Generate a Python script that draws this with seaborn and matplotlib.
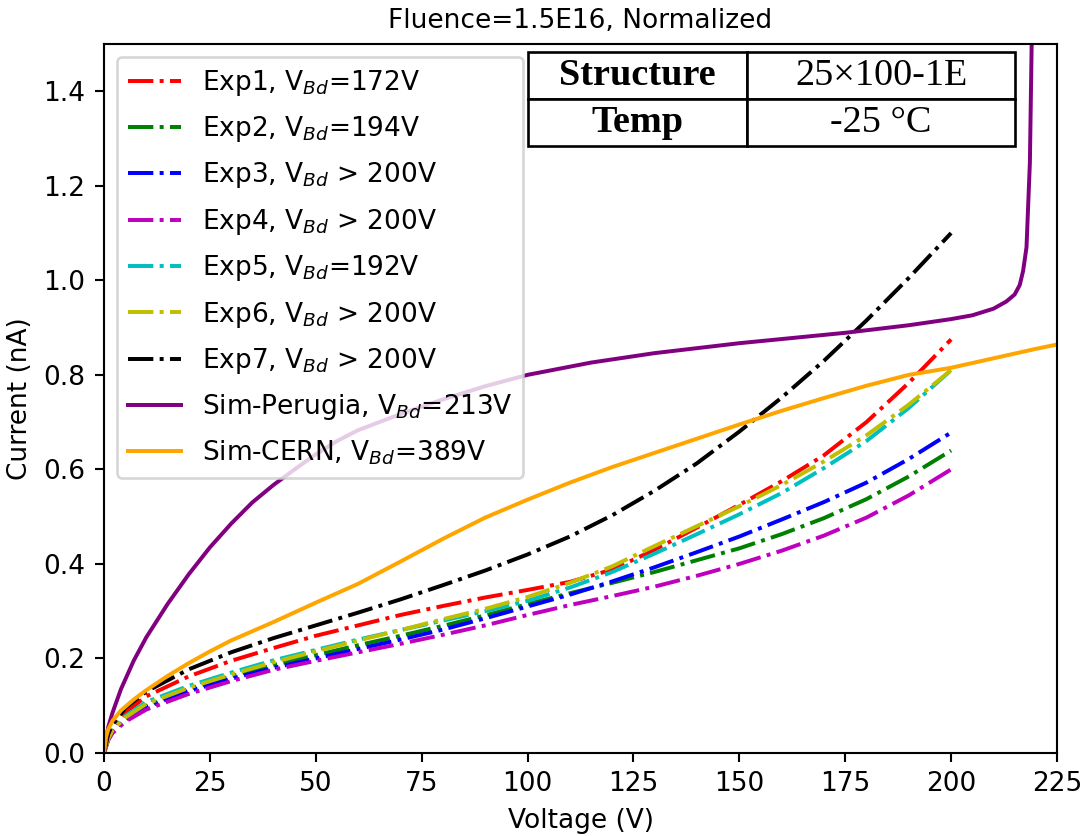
import numpy as np
import pandas as pd
import matplotlib
matplotlib.use("Agg")
import matplotlib.pyplot as plt
import seaborn as sns

# ---------------- data ----------------
v_exp = [0, 1, 2, 5, 10, 20, 30, 40, 50, 60, 70, 80, 90, 100,
         110, 120, 130, 140, 150, 160, 170, 180, 190, 200]

exp1 = [0, 0.035, 0.055, 0.085, 0.12, 0.162, 0.195, 0.222, 0.248, 0.27, 0.292, 0.311, 0.329, 0.345,
        0.362, 0.388, 0.43, 0.477, 0.525, 0.575, 0.63, 0.70, 0.783, 0.875]
exp2 = [0, 0.03, 0.046, 0.072, 0.10, 0.135, 0.162, 0.186, 0.207, 0.228, 0.248, 0.269, 0.291, 0.315,
        0.338, 0.36, 0.383, 0.408, 0.433, 0.463, 0.497, 0.537, 0.585, 0.64]
exp3 = [0, 0.029, 0.045, 0.07, 0.097, 0.131, 0.157, 0.18, 0.20, 0.22, 0.24, 0.261, 0.285, 0.31,
        0.335, 0.363, 0.393, 0.425, 0.458, 0.494, 0.531, 0.572, 0.622, 0.678]
exp4 = [0, 0.027, 0.042, 0.066, 0.092, 0.125, 0.152, 0.176, 0.195, 0.213, 0.231, 0.25, 0.27, 0.292,
        0.313, 0.332, 0.352, 0.375, 0.40, 0.428, 0.46, 0.498, 0.545, 0.60]
exp5 = [0, 0.032, 0.05, 0.078, 0.108, 0.142, 0.17, 0.196, 0.218, 0.24, 0.26, 0.28, 0.30, 0.322,
        0.35, 0.383, 0.422, 0.463, 0.505, 0.55, 0.603, 0.66, 0.73, 0.81]
exp6 = [0, 0.03, 0.048, 0.075, 0.104, 0.138, 0.166, 0.192, 0.215, 0.238, 0.26, 0.283, 0.305, 0.33,
        0.36, 0.395, 0.438, 0.48, 0.522, 0.567, 0.617, 0.672, 0.737, 0.81]
exp7 = [0, 0.04, 0.06, 0.095, 0.13, 0.177, 0.213, 0.243, 0.27, 0.297, 0.325, 0.355, 0.386, 0.42,
        0.458, 0.503, 0.555, 0.613, 0.68, 0.752, 0.83, 0.915, 1.005, 1.10]

v_perugia = [0, 1, 2, 4, 7, 10, 15, 20, 25, 30, 35, 40, 45, 50, 55, 60, 70, 80, 90, 100,
             115, 130, 150, 175, 190, 200, 205, 210, 213, 215, 216.2, 217, 217.8, 218.6, 219, 219.3]
i_perugia = [0, 0.055, 0.085, 0.135, 0.195, 0.245, 0.315, 0.378, 0.435, 0.485, 0.53, 0.567,
             0.60, 0.632, 0.66, 0.683, 0.717, 0.748, 0.776, 0.80,
             0.826, 0.846, 0.867, 0.889, 0.905, 0.918, 0.926, 0.94, 0.955, 0.97, 0.99, 1.02,
             1.07, 1.25, 1.49, 1.6]

v_cern = [0, 0.5, 1, 2, 4, 7, 10, 15, 20, 25, 30, 40, 50, 60, 70, 80, 90, 100, 110, 120,
          130, 140, 150, 160, 170, 180, 190, 200, 210, 220, 226]
i_cern = [0, 0.035, 0.05, 0.068, 0.09, 0.113, 0.133, 0.163, 0.19, 0.215, 0.238, 0.277, 0.318,
          0.358, 0.405, 0.453, 0.498, 0.536, 0.572, 0.605, 0.635, 0.665, 0.695, 0.724, 0.751,
          0.777, 0.800, 0.815, 0.835, 0.855, 0.866]

exp_labels = [r"Exp1, V$_{Bd}$=172V", r"Exp2, V$_{Bd}$=194V", r"Exp3, V$_{Bd}$ > 200V",
              r"Exp4, V$_{Bd}$ > 200V", r"Exp5, V$_{Bd}$=192V", r"Exp6, V$_{Bd}$ > 200V",
              r"Exp7, V$_{Bd}$ > 200V"]
sim_labels = [r"Sim-Perugia, V$_{Bd}$=213V", r"Sim-CERN, V$_{Bd}$=389V"]

table_text = [["Structure", "25×100-1E"], ["Temp", "-25 °C"]]

title = "Fluence=1.5E16, Normalized"
xlabel = "Voltage (V)"
ylabel = "Current (nA)"
x_ticks = [0, 25, 50, 75, 100, 125, 150, 175, 200, 225]
y_ticks = [0.0, 0.2, 0.4, 0.6, 0.8, 1.0, 1.2, 1.4]

# ---------------- plotting ----------------
DPI = 190
fig = plt.figure(figsize=(1086 / DPI, 836 / DPI), dpi=DPI)
ax = fig.add_axes([104 / 1086, (836 - 753) / 836, (1057 - 104) / 1086, (753 - 44) / 836])

exp_series = [exp1, exp2, exp3, exp4, exp5, exp6, exp7]
exp_colors = ["r", "g", "b", "m", "c", "y", "k"]
for vals, lab, col in zip(exp_series, exp_labels, exp_colors):
    df = pd.DataFrame({"V": v_exp, "I": vals})
    sns.lineplot(data=df, x="V", y="I", ax=ax, color=col, linestyle="-.",
                 linewidth=1.5, label=lab, sort=False, estimator=None)

sns.lineplot(data=pd.DataFrame({"V": v_perugia, "I": i_perugia}), x="V", y="I", ax=ax,
             color="purple", linewidth=1.5, label=sim_labels[0], sort=False, estimator=None)
sns.lineplot(data=pd.DataFrame({"V": v_cern, "I": i_cern}), x="V", y="I", ax=ax,
             color="orange", linewidth=1.5, label=sim_labels[1], sort=False, estimator=None)

ax.set_xlim(0, 225)
ax.set_ylim(0, 1.5)
ax.set_xticks(x_ticks)
ax.set_yticks(y_ticks)
ax.tick_params(labelsize=10)
ax.set_title(title, fontsize=10)
ax.set_xlabel(xlabel, fontsize=10)
ax.set_ylabel(ylabel, fontsize=10)

ax.legend(loc="upper left", fontsize=10, labelspacing=0.62)

tab = ax.table(cellText=table_text, colWidths=[0.45, 0.55], cellLoc="center",
               bbox=[(528 - 104) / 953, (753 - 146) / 709, (1015 - 528) / 953, (146 - 52) / 709])
tab.auto_set_font_size(False)
for (r, c), cell in tab.get_celld().items():
    cell.set_linewidth(1.0)
    cell.set_edgecolor("black")
    cell.set_facecolor("white")
    t = cell.get_text()
    t.set_fontsize(14.5)
    t.set_fontfamily(["Liberation Serif", "DejaVu Serif"])
    if c == 0:
        t.set_fontweight("bold")
tab.set_zorder(5)

fig.savefig("out.png", dpi=DPI)
